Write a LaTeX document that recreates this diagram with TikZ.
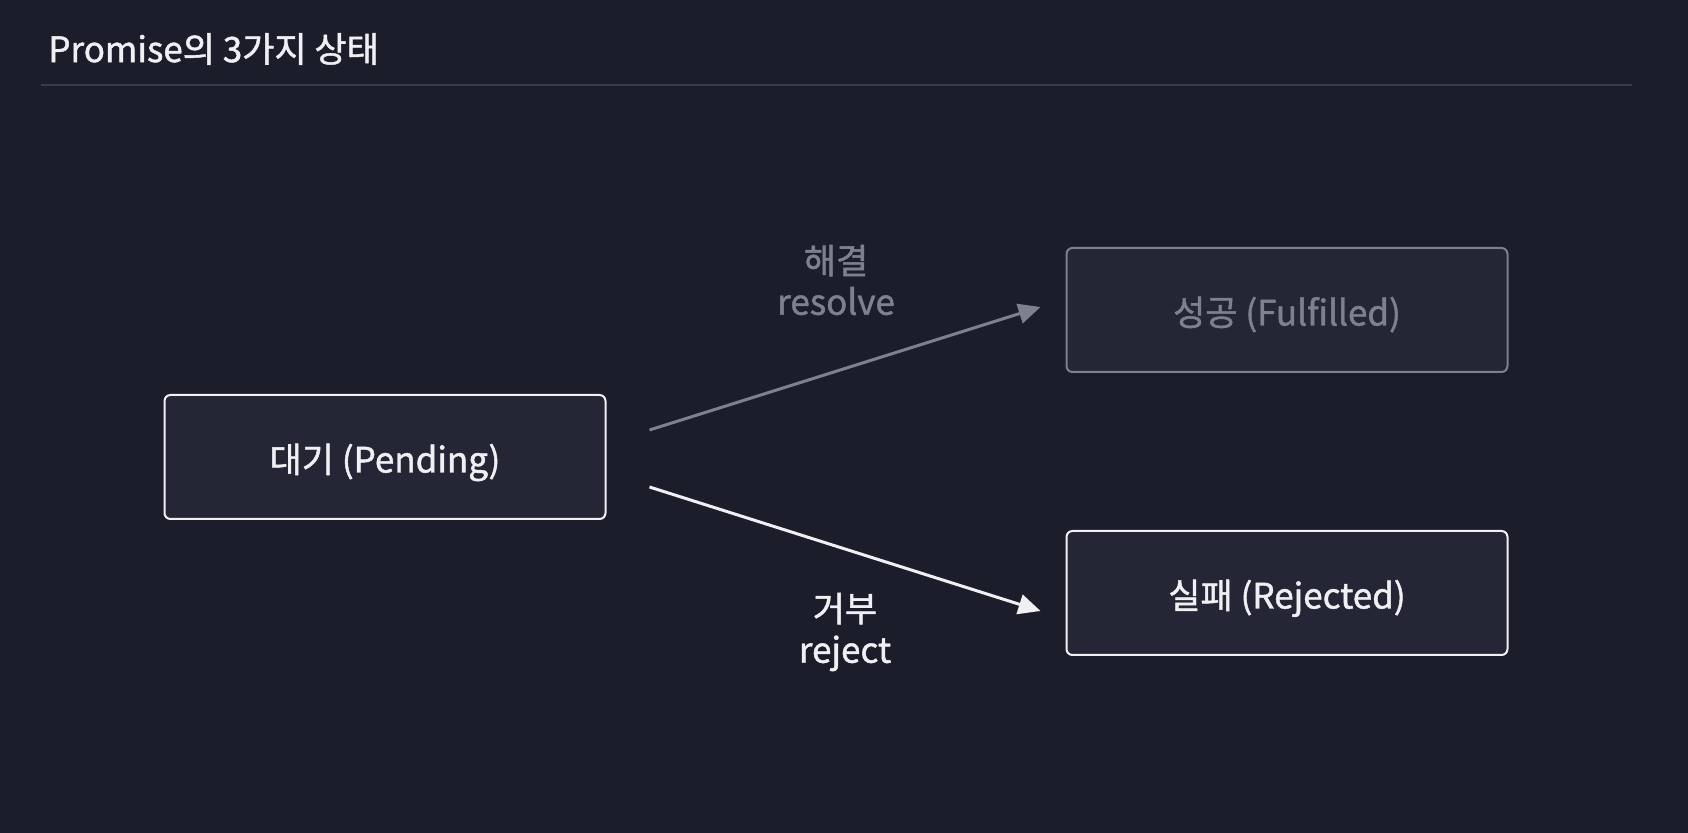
\documentclass[tikz,border=0pt]{standalone}
\usepackage{fontspec}
\setmainfont{Noto Sans CJK KR}[FakeBold=1.3]
\usetikzlibrary{positioning,arrows.meta,calc}
\definecolor{bgdark}{HTML}{1B1D2B}
\definecolor{boxfill}{HTML}{242636}
\definecolor{lineclr}{HTML}{F0F0F4}
\definecolor{dimclr}{HTML}{7E808F}
\definecolor{ruleclr}{HTML}{383A49}

\begin{document}
\begin{tikzpicture}[x=0.5pt,y=-0.5pt,>={Triangle[length=11pt,width=10pt]},
  every node/.style={font=\fontsize{17.5}{20.5}\selectfont},
  statebox/.style={draw=lineclr,fill=boxfill,line width=1pt,rounded corners=3pt,
    minimum width=220.5pt,minimum height=62pt,text=lineclr,
    text height=19pt,text depth=3.5pt},
  dimbox/.style={statebox,draw=dimclr,text=dimclr}]
\fill[bgdark] (0,0) rectangle (1688,833);
\useasboundingbox (0,0) rectangle (1688,833);
% title and rule
\node[anchor=west,text=lineclr,inner sep=0pt] (title) at (48,49) {Promise의 3가지 상태};
\coordinate (ruleL) at (41,85);
\coordinate (ruleR) at (1632,85);
\draw[ruleclr,line width=0.6pt] (ruleL) -- (ruleR);
% states
\node[statebox] (pending) at (385,457) {대기 (Pending)};
\node[dimbox] (fulfilled) at (1287,310) {성공 (Fulfilled)};
\node[statebox] (rejected) at (1287,593) {실패 (Rejected)};
% transitions
\coordinate (resS) at ($(pending.east)+(43,-27)$);
\coordinate (resE) at ($(fulfilled.west)+(-25,-3)$);
\coordinate (rejS) at ($(pending.east)+(43,30)$);
\coordinate (rejE) at ($(rejected.west)+(-25,18)$);
\draw[->,dimclr,line width=1.5pt] (resS) -- (resE);
\draw[->,lineclr,line width=1.5pt] (rejS) -- (rejE);
\node[align=center,text=dimclr] (lblres) at (836,280) {해결\\resolve};
\node[align=center,text=lineclr] (lblrej) at (845,632) {거부\\reject};
\end{tikzpicture}
\end{document}
